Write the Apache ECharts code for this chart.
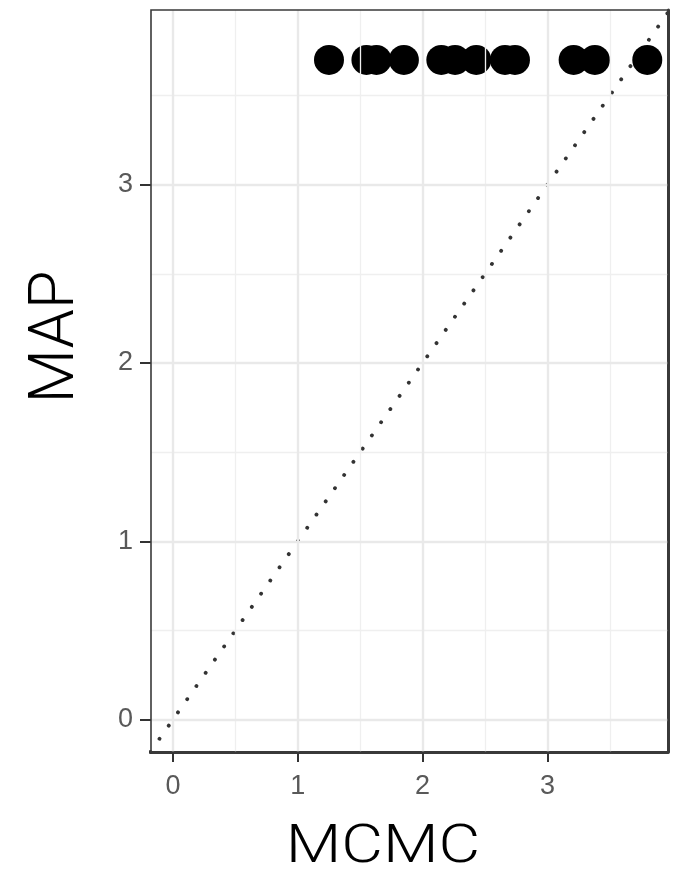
<!DOCTYPE html>
<html>
<head>
<meta charset="utf-8">
<script src="https://cdn.jsdelivr.net/npm/echarts@6/dist/echarts.min.js"></script>
<style>
html,body{margin:0;padding:0;background:#fff;}
#chart{width:681px;height:880px;}
</style>
</head>
<body>
<div id="chart"></div>
<script>
// data
const mcmcValues = [1.25, 1.55, 1.63, 1.85, 2.15, 2.26, 2.43, 2.66, 2.74, 3.21, 3.38, 3.80];
const mapValues  = [3.70, 3.70, 3.70, 3.70, 3.70, 3.70, 3.70, 3.70, 3.70, 3.70, 3.70, 3.70];
const majorTicks = [0, 1, 2, 3];
const minorTicks = [0.5, 1.5, 2.5, 3.5];
const xLimits = [-0.176, 3.966];
const yLimits = [-0.182, 3.98];
const xTitle = 'MCMC';
const yTitle = 'MAP';

const points = mcmcValues.map((v, i) => [v, mapValues[i]]);
const lo = Math.min(xLimits[0], yLimits[0]);
const hi = Math.max(xLimits[1], yLimits[1]);
const diag = [[lo, lo], [hi, hi]];

const gridLines = [];
minorTicks.forEach(v => {
  gridLines.push({xAxis: v, lineStyle: {color: '#efefef', width: 1.3, type: 'solid'}});
  gridLines.push({yAxis: v, lineStyle: {color: '#efefef', width: 1.3, type: 'solid'}});
});
majorTicks.forEach(v => {
  gridLines.push({xAxis: v, lineStyle: {color: '#e9e9e9', width: 2.4, type: 'solid'}});
  gridLines.push({yAxis: v, lineStyle: {color: '#e9e9e9', width: 2.4, type: 'solid'}});
});

const labelStyle = {color: '#595959', fontSize: 27, fontFamily: 'Liberation Sans'};

const chart = echarts.init(document.getElementById('chart'), null, {renderer: 'canvas'});
chart.setOption({
  backgroundColor: '#fff',
  animation: false,
  grid: {left: 151, right: 13, top: 10, bottom: 128, show: true, borderColor: '#3a3a3a', borderWidth: 1.6, backgroundColor: 'transparent', z: 10},
  xAxis: {
    type: 'value', min: xLimits[0], max: xLimits[1],
    splitLine: {show: false},
    axisLine: {show: true, onZero: false, lineStyle: {color: '#3a3a3a', width: 3}},
    axisTick: {show: true, customValues: majorTicks, length: 10, lineStyle: {color: '#333', width: 2}},
    axisLabel: Object.assign({customValues: majorTicks, margin: 21, formatter: v => String(v)}, labelStyle)
  },
  yAxis: [{
    type: 'value', min: yLimits[0], max: yLimits[1],
    splitLine: {show: false},
    axisLine: {show: false, onZero: false},
    axisTick: {show: true, customValues: majorTicks, length: 11, lineStyle: {color: '#333', width: 2}},
    axisLabel: Object.assign({customValues: majorTicks, margin: 18, formatter: v => String(v)}, labelStyle)
  }, {
    type: 'value', min: yLimits[0], max: yLimits[1], position: 'right',
    splitLine: {show: false},
    axisLine: {show: true, onZero: false, lineStyle: {color: '#3a3a3a', width: 3}},
    axisTick: {show: false}, axisLabel: {show: false}
  }],
  graphic: [
    {type: 'text', x: 383, y: 848, scaleX: 1.19, z: 20,
     style: {text: xTitle, fontSize: 54, fontFamily: 'Roboto', fontWeight: 300, fill: '#000', textAlign: 'center', textVerticalAlign: 'middle'}},
    {type: 'text', x: 57, y: 337, rotation: Math.PI / 2, z: 20,
     style: {text: yTitle, fontSize: 63, fontFamily: 'Roboto', fontWeight: 300, fill: '#000', textAlign: 'center', textVerticalAlign: 'middle'}}
  ],
  series: [
    {
      type: 'line', data: [], silent: true, z: 1,
      markLine: {silent: true, symbol: 'none', label: {show: false}, animation: false, data: gridLines}
    },
    {
      type: 'line', data: diag, symbol: 'none', silent: true, clip: true, z: 2,
      lineStyle: {color: '#333', width: 3.8, type: [0.1, 16], cap: 'round'}
    },
    {
      type: 'scatter', data: points, symbol: 'circle', symbolSize: 30, z: 3,
      itemStyle: {color: '#000', opacity: 1}
    }
  ]
});
</script>
</body>
</html>
